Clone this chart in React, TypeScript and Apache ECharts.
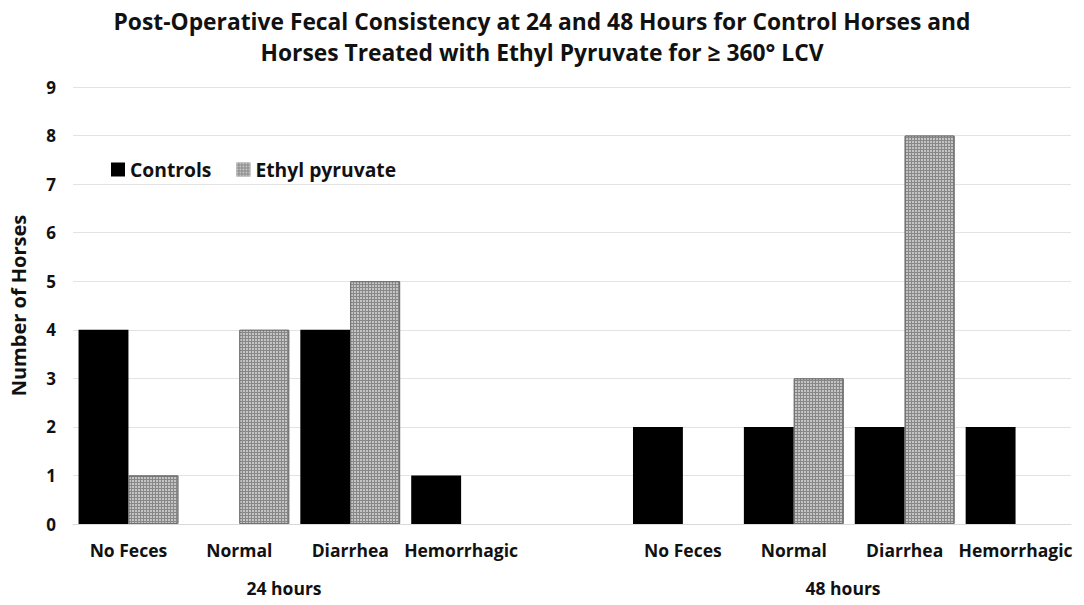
import React, { useEffect, useRef } from "react";
import * as echarts from "echarts";

const categories = ["No Feces", "Normal", "Diarrhea", "Hemorrhagic", "", "No Feces", "Normal", "Diarrhea", "Hemorrhagic"];
const controls = [4, 0, 4, 1, null, 2, 2, 2, 2];
const ethylPyruvate = [1, 4, 5, 0, null, 0, 3, 8, 0];
const groupLabels = ["24 hours", "48 hours"];
const titleText = "Post-Operative Fecal Consistency at 24 and 48 Hours for Control Horses and\nHorses Treated with Ethyl Pyruvate for \u2265 360\u00b0 LCV";
const yAxisName = "Number of Horses";
const seriesNames = ["Controls", "Ethyl pyruvate"];

const FONT = "Open Sans";
const TEXT = "#111";

export default function App() {
  const ref = useRef<HTMLDivElement>(null);
  useEffect(() => {
    if (!ref.current) return;
    const chart = echarts.init(ref.current, undefined, { renderer: "svg" });
    const decal = {
      symbol: "rect",
      symbolSize: 1,
      color: "#c4c4c4",
      dashArrayX: [2, 1],
      dashArrayY: [2, 1],
      rotation: 0,
    };
    const epData = ethylPyruvate.map((v) =>
      v ? { value: v, itemStyle: { borderColor: "#707070", borderWidth: 1 } } : { value: v }
    );
    chart.setOption({
      animation: false,
      backgroundColor: "#fff",
      title: {
        text: titleText,
        left: "center",
        top: 1,
        textStyle: { fontFamily: FONT, fontSize: 22.8, fontWeight: "bold", color: TEXT, lineHeight: 31 },
      },
      legend: {
        left: 106,
        top: 155,
        itemWidth: 14,
        itemHeight: 14,
        itemGap: 25,
        icon: "rect",
        textStyle: { fontFamily: FONT, fontSize: 19.3, fontWeight: "bold", color: TEXT },
        data: seriesNames,
      },
      grid: { left: 72, right: 13, top: 87, bottom: 81, containLabel: false },
      xAxis: {
        type: "category",
        data: categories,
        axisLine: { show: true, lineStyle: { color: "#d9d9d9", width: 1 } },
        axisTick: { show: false },
        axisLabel: { interval: 0, margin: 17, fontFamily: FONT, fontSize: 17.5, fontWeight: "bold", color: TEXT },
      },
      yAxis: {
        type: "value",
        min: 0,
        max: 9,
        interval: 1,
        name: yAxisName,
        nameLocation: "middle",
        nameGap: 45,
        nameTextStyle: { fontFamily: FONT, fontSize: 20, fontWeight: "bold", color: TEXT },
        axisLine: { show: false },
        axisTick: { show: false },
        splitLine: { lineStyle: { color: "#e3e3e3", width: 1 } },
        axisLabel: { margin: 17, fontFamily: FONT, fontSize: 17, fontWeight: "bold", color: TEXT },
      },
      series: [
        {
          name: seriesNames[0],
          type: "bar",
          data: controls,
          barGap: "0%",
          barCategoryGap: "10%",
          itemStyle: { color: "#000" },
        },
        {
          name: seriesNames[1],
          type: "bar",
          data: epData,
          barGap: "0%",
          barCategoryGap: "10%",
          itemStyle: { color: "#888888", decal },
        },
      ],
      graphic: [
        {
          type: "text",
          x: 284,
          y: 588,
          style: {
            text: groupLabels[0],
            fontFamily: FONT,
            fontSize: 17.5,
            fontWeight: "bold",
            fill: TEXT,
            align: "center",
            verticalAlign: "middle",
          },
        },
        {
          type: "text",
          x: 843,
          y: 588,
          style: {
            text: groupLabels[1],
            fontFamily: FONT,
            fontSize: 17.5,
            fontWeight: "bold",
            fill: TEXT,
            align: "center",
            verticalAlign: "middle",
          },
        },
      ],
    });
    return () => chart.dispose();
  }, []);
  return (
    <div
      ref={ref}
      style={{ position: "fixed", left: 0, top: 0, width: 1084, height: 605, background: "#fff" }}
    />
  );
}
